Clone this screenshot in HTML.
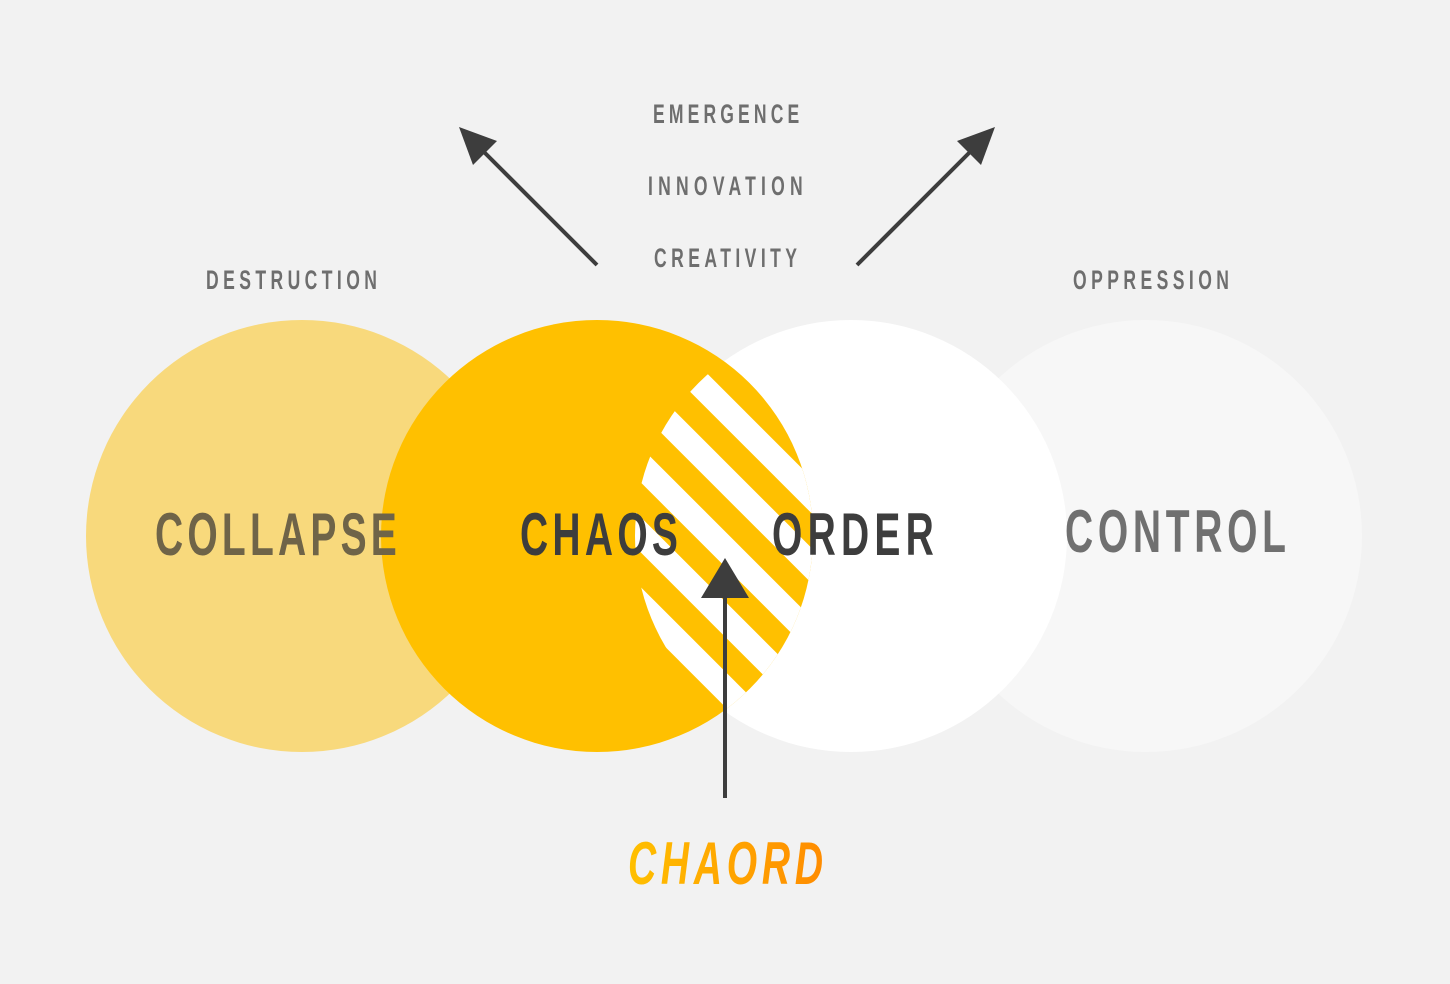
<!DOCTYPE html>
<html><head><meta charset="utf-8"><style>
html,body{margin:0;padding:0;background:#f2f2f2;}
svg{display:block;}
text{font-family:"Liberation Sans",sans-serif;font-weight:bold;}
</style></head><body>
<svg width="1450" height="984" viewBox="0 0 1450 984" xmlns="http://www.w3.org/2000/svg">
<defs>
<clipPath id="chaos"><circle cx="597" cy="536" r="216"/></clipPath>
<clipPath id="order"><circle cx="851" cy="536" r="216"/></clipPath>
<linearGradient id="g" x1="0" x2="1" y1="0" y2="0">
<stop offset="0" stop-color="#ffc000"/><stop offset="1" stop-color="#ff8c00"/>
</linearGradient>
</defs>
<rect width="1450" height="984" fill="#f2f2f2"/>
<circle cx="1146" cy="536" r="216" fill="#f7f7f7"/>
<circle cx="302" cy="536" r="216" fill="#f8d97c"/>
<circle cx="851" cy="536" r="216" fill="#ffffff"/>
<circle cx="597" cy="536" r="216" fill="#ffc000"/>
<g clip-path="url(#chaos)"><g clip-path="url(#order)" stroke="#ffffff" stroke-width="25">
<line x1="616" y1="300" x2="1116" y2="800"/>
<line x1="546" y1="300" x2="1046" y2="800"/>
<line x1="476" y1="300" x2="976" y2="800"/>
<line x1="406" y1="300" x2="906" y2="800"/>
<line x1="336" y1="300" x2="836" y2="800"/>
</g></g>
<text transform="translate(155,555) scale(0.65,1)" font-size="60" fill="#6f6448" textLength="372" lengthAdjust="spacing">COLLAPSE</text>
<text transform="translate(520,555) scale(0.65,1)" font-size="60" fill="#3d3d3d" textLength="243" lengthAdjust="spacing">CHAOS</text>
<text transform="translate(772,555) scale(0.65,1)" font-size="60" fill="#3d3d3d" textLength="249" lengthAdjust="spacing">ORDER</text>
<text transform="translate(1065,552) scale(0.65,1)" font-size="60" fill="#707070" textLength="340" lengthAdjust="spacing">CONTROL</text>
<g font-size="27" fill="#6e6e6e">
<text transform="translate(206,289) scale(0.65,1)" textLength="263" lengthAdjust="spacing">DESTRUCTION</text>
<text transform="translate(1073,289) scale(0.65,1)" textLength="240" lengthAdjust="spacing">OPPRESSION</text>
<text transform="translate(653,123) scale(0.65,1)" textLength="225" lengthAdjust="spacing">EMERGENCE</text>
<text transform="translate(648,195) scale(0.65,1)" textLength="238" lengthAdjust="spacing">INNOVATION</text>
<text transform="translate(654,267) scale(0.65,1)" textLength="220" lengthAdjust="spacing">CREATIVITY</text>
</g>
<text transform="translate(628,884) scale(0.65,1)" font-size="60" font-style="italic" fill="url(#g)" textLength="300" lengthAdjust="spacing">CHAORD</text>
<g stroke="#3d3d3d" stroke-width="4" fill="#3d3d3d">
<line x1="597" y1="265" x2="478" y2="146"/>
<polygon points="459,127 497,141 473,165" stroke="none"/>
<line x1="857" y1="265" x2="976" y2="146"/>
<polygon points="995,127 981,165 957,141" stroke="none"/>
<line x1="725" y1="798" x2="725" y2="595"/>
<polygon points="725,558 749,598 701,598" stroke="none"/>
</g>
</svg>
</body></html>
